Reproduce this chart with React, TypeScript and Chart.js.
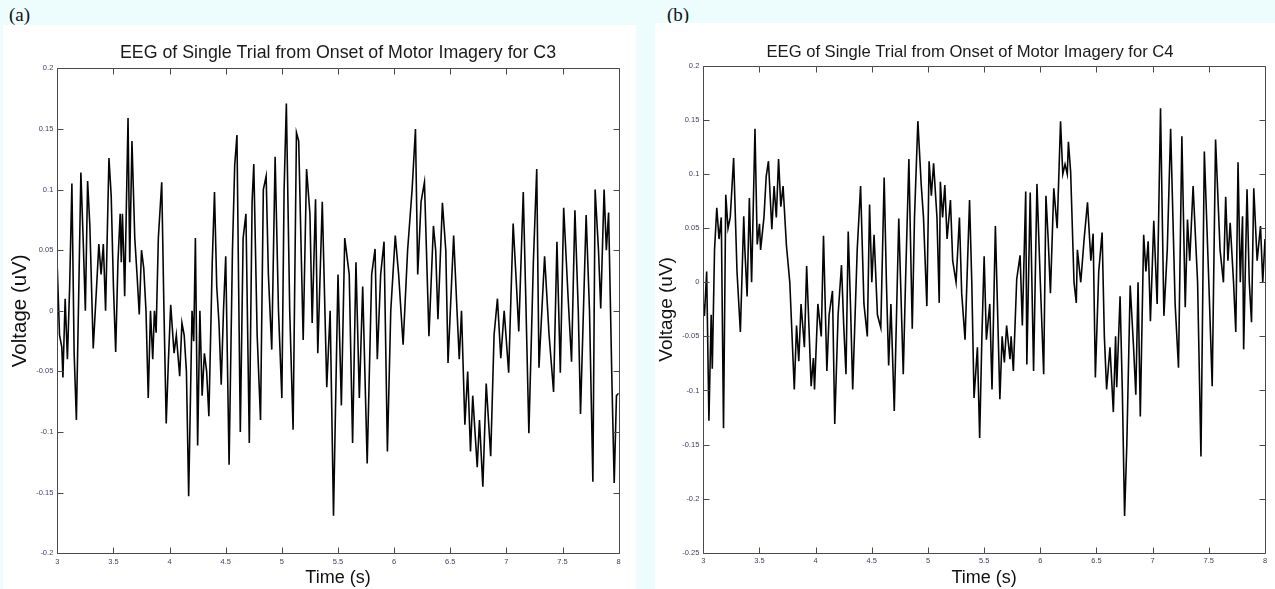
import React, { useEffect, useRef } from "react";
import { Chart, registerables } from "chart.js";

Chart.register(...registerables);

// ---------- data ----------
const xTickValues = [3, 3.5, 4, 4.5, 5, 5.5, 6, 6.5, 7, 7.5, 8];
const yTickValuesA = [-0.2, -0.15, -0.1, -0.05, 0, 0.05, 0.1, 0.15, 0.2];
const yTickValuesB = [-0.25, -0.2, -0.15, -0.1, -0.05, 0, 0.05, 0.1, 0.15, 0.2];

const timesA = [
  3.00, 3.02, 3.04, 3.05, 3.07, 3.09, 3.11, 3.13, 3.15, 3.17,
  3.19, 3.21, 3.23, 3.25, 3.27, 3.29, 3.32, 3.35, 3.37, 3.39,
  3.41, 3.43, 3.46, 3.48, 3.50, 3.52, 3.54, 3.56, 3.57, 3.58,
  3.59, 3.60, 3.63, 3.645, 3.665, 3.69, 3.71, 3.73, 3.75, 3.77,
  3.79, 3.81, 3.83, 3.85, 3.865, 3.88, 3.90, 3.93, 3.95, 3.97,
  3.99, 4.01, 4.04, 4.06, 4.09, 4.11, 4.13, 4.15, 4.17, 4.20,
  4.215, 4.23, 4.25, 4.27, 4.29, 4.31, 4.33, 4.35, 4.38, 4.40,
  4.42, 4.44, 4.46, 4.48, 4.50, 4.53, 4.56, 4.58, 4.60, 4.615,
  4.63, 4.655, 4.68, 4.71, 4.735, 4.75, 4.78, 4.81, 4.835, 4.86,
  4.88, 4.91, 4.94, 4.97, 5.00, 5.02, 5.04, 5.07, 5.10, 5.13,
  5.15, 5.19, 5.22, 5.25, 5.27, 5.30, 5.32, 5.36, 5.40, 5.43,
  5.46, 5.50, 5.53, 5.56, 5.60, 5.63, 5.66, 5.69, 5.72, 5.76,
  5.80, 5.83, 5.85, 5.88, 5.91, 5.94, 5.97, 6.01, 6.04, 6.08,
  6.12, 6.16, 6.19, 6.21, 6.24, 6.27, 6.31, 6.35, 6.37, 6.39,
  6.43, 6.46, 6.48, 6.51, 6.53, 6.56, 6.58, 6.60, 6.63, 6.655,
  6.68, 6.70, 6.74, 6.76, 6.79, 6.82, 6.86, 6.89, 6.92, 6.95,
  6.98, 7.02, 7.06, 7.09, 7.11, 7.15, 7.17, 7.20, 7.24, 7.27,
  7.29, 7.34, 7.38, 7.42, 7.45, 7.48, 7.51, 7.55, 7.58, 7.61,
  7.64, 7.66, 7.71, 7.74, 7.77, 7.79, 7.82, 7.84, 7.87, 7.89,
  7.91, 7.94, 7.96, 7.98, 8.00,
];
const voltsA = [
  0.035, -0.02, -0.03, -0.055, 0.01, -0.04, 0.02, 0.105, -0.035, -0.09,
  0.01, 0.114, 0.06, 0.0, 0.107, 0.07, -0.031, 0.02, 0.055, 0.03,
  0.055, 0.0, 0.126, 0.095, 0.02, -0.034, 0.04, 0.08, 0.04, 0.08,
  0.05, 0.012, 0.159, 0.04, 0.14, 0.06, 0.03, -0.003, 0.05, 0.035,
  0.0, -0.072, 0.0, -0.04, 0.0, -0.018, 0.06, 0.106, 0.0, -0.093,
  -0.04, 0.005, -0.035, -0.02, -0.054, -0.01, -0.02, -0.05, -0.153, 0.0,
  -0.025, 0.06, -0.111, 0.0, -0.07, -0.035, -0.05, -0.087, 0.04, 0.098,
  0.02, -0.01, -0.061, 0.0, 0.045, -0.127, 0.05, 0.12, 0.145, 0.02,
  -0.1, 0.06, 0.08, -0.109, 0.09, 0.121, -0.02, -0.09, 0.1, 0.111,
  0.03, -0.032, 0.127, 0.0, -0.072, 0.1, 0.171, 0.0, -0.098, 0.147,
  0.14, -0.024, 0.117, 0.08, -0.01, 0.092, -0.035, 0.09, -0.063, 0.0,
  -0.169, 0.03, -0.078, 0.06, 0.03, -0.109, 0.04, -0.072, 0.02, -0.126,
  0.03, 0.051, -0.04, 0.03, 0.057, -0.116, 0.0, 0.062, 0.03, -0.028,
  0.05, 0.1, 0.15, 0.03, 0.09, 0.106, -0.021, 0.07, 0.05, -0.007,
  0.089, 0.05, -0.043, 0.02, 0.062, 0.0, -0.04, 0.0, -0.094, -0.05,
  -0.116, -0.07, -0.129, -0.09, -0.145, -0.06, -0.12, -0.02, 0.01, -0.039,
  0.0, -0.051, 0.072, 0.02, -0.017, 0.098, 0.02, -0.101, 0.04, 0.117,
  -0.047, 0.045, -0.02, -0.067, 0.057, -0.051, 0.085, 0.01, -0.042, 0.083,
  0.0, -0.085, 0.079, 0.0, -0.141, 0.1, 0.05, 0.002, 0.1, 0.05,
  0.081, -0.06, -0.142, -0.07, -0.068,
];

const timesB = [
  3.00, 3.01, 3.03, 3.05, 3.07, 3.08, 3.10, 3.12, 3.14, 3.16,
  3.18, 3.20, 3.22, 3.24, 3.27, 3.30, 3.33, 3.36, 3.37, 3.39,
  3.41, 3.43, 3.46, 3.48, 3.50, 3.51, 3.54, 3.56, 3.58, 3.61,
  3.63, 3.65, 3.67, 3.69, 3.71, 3.74, 3.77, 3.81, 3.83, 3.85,
  3.87, 3.90, 3.92, 3.94, 3.96, 3.98, 3.99, 4.02, 4.05, 4.07,
  4.10, 4.12, 4.15, 4.17, 4.20, 4.23, 4.25, 4.27, 4.29, 4.31,
  4.33, 4.37, 4.40, 4.43, 4.46, 4.48, 4.50, 4.52, 4.55, 4.58,
  4.61, 4.63, 4.65, 4.67, 4.70, 4.74, 4.78, 4.80, 4.83, 4.86,
  4.88, 4.91, 4.94, 4.96, 4.99, 5.01, 5.03, 5.05, 5.08, 5.10,
  5.11, 5.13, 5.15, 5.17, 5.20, 5.22, 5.25, 5.28, 5.30, 5.33,
  5.37, 5.39, 5.41, 5.44, 5.46, 5.48, 5.50, 5.52, 5.55, 5.57,
  5.60, 5.64, 5.66, 5.68, 5.70, 5.73, 5.74, 5.76, 5.79, 5.82,
  5.84, 5.87, 5.88, 5.91, 5.94, 5.97, 6.00, 6.03, 6.05, 6.07,
  6.09, 6.12, 6.15, 6.18, 6.20, 6.22, 6.24, 6.25, 6.27, 6.30,
  6.32, 6.33, 6.36, 6.39, 6.42, 6.45, 6.47, 6.49, 6.52, 6.55,
  6.57, 6.59, 6.62, 6.65, 6.67, 6.68, 6.71, 6.73, 6.75, 6.77,
  6.80, 6.83, 6.85, 6.87, 6.89, 6.92, 6.94, 6.96, 6.98, 7.01,
  7.04, 7.07, 7.10, 7.13, 7.16, 7.20, 7.23, 7.26, 7.29, 7.31,
  7.33, 7.36, 7.40, 7.43, 7.46, 7.50, 7.53, 7.56, 7.60, 7.63,
  7.65, 7.67, 7.69, 7.72, 7.74, 7.76, 7.78, 7.80, 7.81, 7.84,
  7.86, 7.88, 7.90, 7.93, 7.96, 7.98, 8.00,
];
const voltsB = [
  -0.02, -0.031, 0.01, -0.128, -0.03, -0.08, 0.03, 0.069, 0.04, 0.06,
  -0.135, 0.081, 0.05, 0.06, 0.115, 0.01, -0.046, 0.061, 0.03, -0.013,
  0.078, 0.0, 0.142, 0.035, 0.054, 0.03, 0.06, 0.098, 0.112, 0.049,
  0.089, 0.06, 0.114, 0.07, 0.089, 0.034, 0.0, -0.099, -0.04, -0.073,
  -0.02, -0.06, 0.015, -0.04, -0.096, -0.07, -0.099, -0.02, -0.05, 0.043,
  -0.082, -0.03, -0.008, -0.131, -0.03, 0.016, -0.04, -0.085, 0.047, -0.02,
  -0.099, 0.03, 0.089, -0.02, -0.05, 0.072, 0.0, 0.044, -0.03, -0.042,
  0.097, 0.0, -0.077, -0.02, -0.119, 0.059, -0.085, 0.0, 0.114, -0.043,
  0.06, 0.149, 0.09, 0.06, -0.022, 0.112, 0.08, 0.11, 0.06, -0.019,
  0.093, 0.06, 0.09, 0.04, 0.076, 0.02, 0.0, 0.06, -0.01, -0.053,
  0.076, 0.0, -0.107, -0.06, -0.144, -0.05, 0.024, -0.053, -0.02, -0.099,
  0.052, -0.108, -0.05, -0.074, -0.04, -0.071, -0.05, -0.082, 0.003, 0.025,
  -0.04, 0.084, -0.076, 0.083, -0.082, 0.091, 0.0, -0.085, 0.08, 0.04,
  -0.01, 0.087, 0.05, 0.149, 0.1, 0.109, 0.1, 0.13, 0.102, 0.0,
  -0.019, 0.03, 0.0, 0.04, 0.074, 0.02, 0.045, -0.088, 0.01, 0.046,
  -0.05, -0.099, -0.06, -0.12, -0.05, -0.097, -0.013, -0.1, -0.216, -0.15,
  -0.003, -0.06, -0.104, 0.0, -0.124, 0.044, 0.01, 0.038, -0.036, 0.057,
  -0.02, 0.161, -0.031, 0.03, 0.142, -0.02, -0.079, 0.135, -0.023, 0.058,
  0.02, 0.089, 0.0, -0.161, 0.121, 0.0, -0.096, 0.132, 0.03, 0.0,
  0.079, 0.02, 0.055, 0.0, -0.046, 0.111, 0.0, 0.061, -0.062, 0.086,
  0.0, -0.037, 0.087, 0.02, 0.052, 0.0, 0.04,
];

const titleA = "EEG of Single Trial from Onset of Motor Imagery for C3";
const titleB = "EEG of Single Trial from Onset of Motor Imagery for C4";
const xTitle = "Time (s)";
const yTitle = "Voltage (uV)";

// ---------- styling ----------
const SANS = "'Liberation Sans', Arial, Helvetica, sans-serif";
const PAGE_BG = "#edfcfc";
const TICK_COLOR = "#3f3f60";
const AXIS_COLOR = "#4a4a4a";

const fmt = (v: number) => String(parseFloat(Number(v).toFixed(3)));

const matlabBox = {
  id: "matlabBox",
  afterDatasetsDraw(chart: any) {
    const { ctx, chartArea, scales } = chart;
    const { left, right, top, bottom } = chartArea;
    const L = Math.round(left) + 0.5;
    const R = Math.round(right) + 0.5;
    const T = Math.round(top) + 0.5;
    const B = Math.round(bottom) + 0.5;
    const len = 6;
    ctx.save();
    ctx.strokeStyle = AXIS_COLOR;
    ctx.lineWidth = 1;
    ctx.beginPath();
    ctx.moveTo(L, T);
    ctx.lineTo(R, T);
    ctx.lineTo(R, B);
    ctx.lineTo(L, B);
    ctx.closePath();
    for (const t of scales.x.ticks) {
      const px = Math.round(scales.x.getPixelForValue(t.value)) + 0.5;
      ctx.moveTo(px, B);
      ctx.lineTo(px, B - len);
      ctx.moveTo(px, T);
      ctx.lineTo(px, T + len);
    }
    for (const t of scales.y.ticks) {
      const py = Math.round(scales.y.getPixelForValue(t.value)) + 0.5;
      ctx.moveTo(L, py);
      ctx.lineTo(L + len, py);
      ctx.moveTo(R, py);
      ctx.lineTo(R - len, py);
    }
    ctx.stroke();
    ctx.restore();
  },
};

type PanelProps = {
  left: number;
  top: number;
  width: number;
  height: number;
  times: number[];
  volts: number[];
  yTicks: number[];
  title: string;
  titleSize: number;
  titleFullSize: boolean;
  padLeft: number;
  yAxisWidth: number;
  xAxisHeight: number;
  padRight: number;
  titlePadTop: number;
  titlePadBottom: number;
  yTitleSize: number;
  yTitleOffset: number;
};

function Panel(p: PanelProps) {
  const ref = useRef<HTMLCanvasElement | null>(null);
  useEffect(() => {
    if (!ref.current) return;
    const data = p.times.map((t, i) => ({ x: t, y: p.volts[i] }));
    const yMin = p.yTicks[0];
    const yMax = p.yTicks[p.yTicks.length - 1];
    const yLineH = p.yTitleSize * 1.2;
    const chart = new Chart(ref.current, {
      type: "line",
      data: {
        datasets: [
          {
            data,
            borderColor: "#050505",
            borderWidth: 1.6,
            pointRadius: 0,
            tension: 0,
            fill: false,
          },
        ],
      },
      options: {
        animation: false,
        responsive: false,
        devicePixelRatio: 1,
        layout: { padding: { left: p.padLeft, right: p.padRight, top: 0, bottom: 0 } },
        plugins: {
          legend: { display: false },
          tooltip: { enabled: false },
          title: {
            display: true,
            fullSize: p.titleFullSize,
            text: p.title,
            color: "#1a1a1a",
            font: { family: SANS, size: p.titleSize, weight: "normal" as any, lineHeight: 21 / p.titleSize },
            padding: { top: p.titlePadTop, bottom: p.titlePadBottom },
          },
        },
        scales: {
          x: {
            type: "linear",
            min: 3,
            max: 8,
            afterBuildTicks: (s: any) => {
              s.ticks = xTickValues.map((v) => ({ value: v }));
            },
            afterFit: (s: any) => {
              s.height = p.xAxisHeight;
            },
            grid: { display: false, drawTicks: false },
            border: { display: false },
            ticks: {
              padding: 4,
              autoSkip: false,
              maxRotation: 0,
              color: TICK_COLOR,
              font: { family: SANS, size: 7.5 },
              callback: (v: any) => fmt(v),
            },
            title: {
              display: true,
              text: xTitle,
              color: "#111111",
              padding: 0,
              font: { family: SANS, size: 18, lineHeight: 22 / 18 },
            },
          },
          y: {
            type: "linear",
            min: yMin,
            max: yMax,
            afterBuildTicks: (s: any) => {
              s.ticks = p.yTicks.map((v) => ({ value: v }));
            },
            afterFit: (s: any) => {
              s.width = p.yAxisWidth;
            },
            grid: { display: false, drawTicks: false },
            border: { display: false },
            ticks: {
              padding: 4,
              autoSkip: false,
              color: TICK_COLOR,
              font: { family: SANS, size: 7.5 },
              callback: (v: any) => fmt(v),
            },
            title: {
              display: true,
              text: yTitle,
              color: "#111111",
              padding: { top: p.yTitleOffset - yLineH / 2, bottom: 0 },
              font: { family: SANS, size: p.yTitleSize, lineHeight: 1.2 },
            },
          },
        },
      },
      plugins: [matlabBox],
    } as any);
    return () => chart.destroy();
  }, []);
  return (
    <div
      style={{
        position: "absolute",
        left: p.left,
        top: p.top,
        width: p.width,
        height: p.height,
        background: "#ffffff",
      }}
    >
      <canvas ref={ref} width={p.width} height={p.height} style={{ display: "block" }} />
    </div>
  );
}

const labelStyle: React.CSSProperties = {
  position: "absolute",
  top: 4,
  fontFamily: "'Liberation Serif', 'Times New Roman', serif",
  fontSize: 19,
  lineHeight: "22px",
  color: "#111",
};

export default function App() {
  return (
    <div
      style={{
        position: "absolute",
        left: 0,
        top: 0,
        width: 1275,
        height: 589,
        background: PAGE_BG,
        overflow: "hidden",
      }}
    >
      <div style={{ ...labelStyle, left: 9 }}>(a)</div>
      <div style={{ ...labelStyle, left: 667 }}>(b)</div>
      <Panel
        left={3}
        top={25}
        width={633}
        height={564}
        times={timesA}
        volts={voltsA}
        yTicks={yTickValuesA}
        title={titleA}
        titleSize={17.8}
        titleFullSize={false}
        padLeft={0}
        yAxisWidth={54.3}
        xAxisHeight={35.7}
        padRight={17.3}
        titlePadTop={17.5}
        titlePadBottom={4.8}
        yTitleSize={20.5}
        yTitleOffset={17}
      />
      <Panel
        left={655}
        top={23}
        width={620}
        height={566}
        times={timesB}
        volts={voltsB}
        yTicks={yTickValuesB}
        title={titleB}
        titleSize={16.6}
        titleFullSize={true}
        padLeft={20}
        yAxisWidth={28.3}
        xAxisHeight={36.3}
        padRight={10}
        titlePadTop={18.5}
        titlePadBottom={3.5}
        yTitleSize={19}
        yTitleOffset={-8}
      />
    </div>
  );
}
